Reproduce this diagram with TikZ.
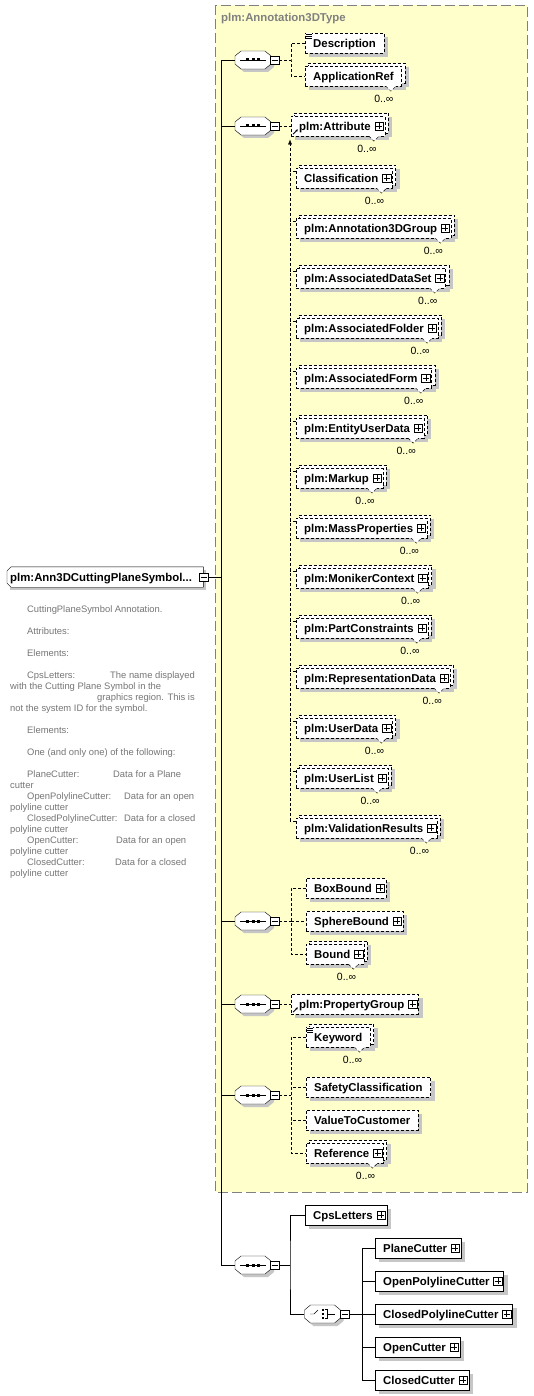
\documentclass[tikz,border=0pt]{standalone}
\usepackage{fontspec}
\setmainfont{Liberation Sans}
\usetikzlibrary{arrows.meta}
\definecolor{yel}{RGB}{255,255,204}
\definecolor{shcol}{RGB}{198,198,198}
\definecolor{frame}{RGB}{128,128,128}
\definecolor{anncol}{RGB}{118,118,118}
\pgfdeclarelayer{ylay}\pgfdeclarelayer{shlay}\pgfdeclarelayer{bklay}
\pgfsetlayers{ylay,shlay,bklay,main}
\newcommand\labfont{\fontsize{11.4}{13}\selectfont\bfseries}
\newcommand\occfont{\fontsize{10.5}{12}\selectfont}
\newcommand\annfont{\fontsize{9.4}{11}\selectfont}
\tikzset{
 dsh/.style={dash pattern=on 3pt off 2pt},
 elem/.style={rectangle, draw, fill=white, anchor=west, minimum height=20pt, inner xsep=0pt, inner ysep=0pt, text height=8.4pt, text depth=0pt, font=\labfont},
 plusb/.style={draw, solid, fill=white, minimum size=8.5pt, inner sep=0pt, path picture={\draw[solid] ([xshift=-3pt]path picture bounding box.center) -- ([xshift=3pt]path picture bounding box.center) ([yshift=-3pt]path picture bounding box.center) -- ([yshift=3pt]path picture bounding box.center);}},
 minusb/.style={draw, solid, fill=white, minimum size=8.5pt, inner sep=0pt, path picture={\draw[solid] ([xshift=-3pt]path picture bounding box.center) -- ([xshift=3pt]path picture bounding box.center);}},
 oct/.style={draw=none, minimum width=36pt, minimum height=18pt, inner sep=0pt},
 occ/.style={font=\occfont, inner sep=0pt},
 ann/.style={font=\annfont, text=anncol, anchor=base west, inner sep=0pt},
}
\newcommand\elP[5]{\node[elem,#5] (#1) at (#2,#3) {\hspace*{8pt}#4\hspace*{14pt}};\node[plusb] (#1p) at ([xshift=-6pt]#1.east) {};}
\newcommand\elN[5]{\node[elem,#5] (#1) at (#2,#3) {\hspace*{8pt}#4\hspace*{8pt}};}
\newcommand\shad[1]{\begin{pgfonlayer}{shlay}\fill[shcol] ([shift={(4,4)}]#1.south west) rectangle ([shift={(4,4)}]#1.north east);\end{pgfonlayer}}
\newcommand\multi[2]{%
 \begin{pgfonlayer}{shlay}\fill[shcol] ([shift={(7,1)}]#1.south west) rectangle ([shift={(7,1)}]#1.north east);\end{pgfonlayer}
 \begin{pgfonlayer}{bklay}\filldraw[fill=white,#2] ([shift={(3,-3)}]#1.south west) rectangle ([shift={(3,-3)}]#1.north east);\end{pgfonlayer}
 \filldraw[fill=white,#2] ([xshift=-16pt]#1.south east) -- ([shift={(-11,5)}]#1.south east) -- ([xshift=-6pt]#1.south east);
 \node[occ] (#1o) at ([shift={(-18,13)}]#1.south east) {0..∞};}
\newcommand\refic[1]{\draw[solid,line width=0.8pt,-{Latex[length=2.5pt,width=2.5pt]}] ([shift={(2,-2)}]#1.south west) -- ([shift={(7,-7)}]#1.south west);}
\newcommand\annic[1]{\fill[white] ([shift={(0.5,0.5)}]#1.north west) rectangle ([shift={(7,6.5)}]#1.north west);
 \draw[solid,line width=0.7pt] ([shift={(1,1.5)}]#1.north west) -- ++(5.5,0) ([shift={(1,3.5)}]#1.north west) -- ++(5.5,0) ([shift={(1,5.5)}]#1.north west) -- ++(5.5,0);}
\newcommand\octshape[1]{%
 \fill[shcol] ([shift={(3,3)}]#1.center) ++(-18,-4) -- ++(6,-5) -- ++(24,0) -- ++(6,5) -- ++(0,8) -- ++(-6,5) -- ++(-24,0) -- ++(-6,-5) -- cycle;
 \filldraw[fill=white] (#1.center) ++(-18,-4) -- ++(6,-5) -- ++(24,0) -- ++(6,5) -- ++(0,8) -- ++(-6,5) -- ++(-24,0) -- ++(-6,-5) -- cycle;}
\newcommand\seqn[3]{% name, x, y
 \node[oct] (#1) at (#2,#3) {};
 \octshape{#1}
 \draw (#1.center) ++(-13,0) -- ++(26,0);
 \fill (#1.center) ++(-7,-1.5) rectangle ++(3,3);
 \fill (#1.center) ++(-1.5,-1.5) rectangle ++(3,3);
 \fill (#1.center) ++(4,-1.5) rectangle ++(3,3);
 \node[minusb] (#1m) at ([xshift=21.5pt]#1.center) {};}
\begin{document}
\begin{tikzpicture}[x=1pt,y=-1pt,line width=1pt]
\useasboundingbox (0,0) rectangle (533,1396);
\begin{pgfonlayer}{ylay}
\fill[white] (0,0) rectangle (533,1396);
\filldraw[fill=yel, draw=frame, dash pattern=on 10pt off 4pt] (215,5) rectangle (527,1192);
\end{pgfonlayer}
\node[anchor=west, inner sep=0pt, font=\labfont, text=frame] (title) at (221,19) {plm:Annotation3DType};

% root
\node[elem, draw=none, fill=none] (root) at (7,577) {\hspace*{3pt}\makebox[193pt][l]{plm:Ann3DCuttingPlaneSymbol...}};
\begin{pgfonlayer}{shlay}\fill[shcol] ([shift={(3,3)}]root.south west) rectangle ([shift={(3,3)}]root.north east);\end{pgfonlayer}
\begin{pgfonlayer}{bklay}
\filldraw[fill=white] ([shift={(0,4)}]root.north west) -- ([shift={(4,0)}]root.north west) -- (root.north east) -- (root.south east) -- ([shift={(4,0)}]root.south west) -- ([shift={(0,-4)}]root.south west) -- cycle;
\end{pgfonlayer}
\node[minusb] (rootm) at (203.5,577) {};

% annotation
\node[ann] (a1) at (27,612.5) {CuttingPlaneSymbol Annotation.};
\node[ann] (a2) at (27,634.5) {Attributes:};
\node[ann] (a3) at (27,656.5) {Elements:};
\node[ann] (a4) at (27,678.5) {CpsLetters:};
\node[ann] (a4b) at (110,678.5) {The name displayed};
\node[ann] (a5) at (10,689.5) {with the Cutting Plane Symbol in the};
\node[ann] (a6) at (97,700.5) {graphics region. This is};
\node[ann] (a7) at (10,711.5) {not the system ID for the symbol.};
\node[ann] (a8) at (27,733.5) {Elements:};
\node[ann] (a9) at (27,755.5) {One (and only one) of the following:};
\node[ann] (a10) at (27,777.5) {PlaneCutter:};
\node[ann] (a10b) at (113,777.5) {Data for a Plane};
\node[ann] (a11) at (10,788.5) {cutter};
\node[ann] (a12) at (27,799.5) {OpenPolylineCutter:};
\node[ann] (a12b) at (124,799.5) {Data for an open};
\node[ann] (a13) at (10,810.5) {polyline cutter};
\node[ann] (a14) at (27,821.5) {ClosedPolylineCutter:};
\node[ann] (a14b) at (124,821.5) {Data for a closed};
\node[ann] (a15) at (10,832.5) {polyline cutter};
\node[ann] (a16) at (27,843.5) {OpenCutter:};
\node[ann] (a16b) at (116,843.5) {Data for an open};
\node[ann] (a17) at (10,854.5) {polyline cutter};
\node[ann] (a18) at (27,865.5) {ClosedCutter:};
\node[ann] (a18b) at (115,865.5) {Data for a closed};
\node[ann] (a19) at (10,876.5) {polyline cutter};

% sequences
\seqn{s1}{253}{60}
\seqn{s2}{253}{126}
\seqn{s3}{253}{921}
\seqn{s4}{253}{1004}
\seqn{s5}{253}{1095}
\seqn{s6}{253}{1265}

% group 1
\elN{desc}{305}{43}{Description}{dsh} \shad{desc} \annic{desc}
\elN{appref}{305}{76}{ApplicationRef}{dsh} \shad{appref} \multi{appref}{dsh}

% group 2
\elP{attr}{291}{126}{plm:Attribute}{dsh} \shad{attr} \multi{attr}{dsh} \refic{attr}
\foreach \n/\yy/\t in {cls/178/Classification, a3g/228/plm:Annotation3DGroup, ads/278/plm:AssociatedDataSet, afo/328/plm:AssociatedFolder, afm/378/plm:AssociatedForm, eud/428/plm:EntityUserData, mku/478/plm:Markup, mpr/528/plm:MassProperties, mon/578/plm:MonikerContext, pcs/628/plm:PartConstraints, rep/678/plm:RepresentationData, usd/728/plm:UserData, usl/778/plm:UserList, val/828/plm:ValidationResults}{
 \elP{\n}{296}{\yy}{\t}{dsh} \shad{\n} \multi{\n}{dsh}
 \draw[dsh] ([yshift=7pt]\n.west) -- ++(-6,0);
}
\coordinate (subtop) at (290,139.5);
\coordinate (subbot) at (290,821);
\draw[dsh,-{Latex[length=5pt,width=4pt]}] (subbot) -- (subtop);

% group 3
\elP{bb}{306}{888}{BoxBound}{dsh} \shad{bb}
\elP{sb}{306}{921}{SphereBound}{dsh} \shad{sb}
\elP{bd}{306}{954}{Bound}{dsh} \shad{bd} \multi{bd}{dsh}

% group 4
\elP{pg}{291}{1004}{plm:PropertyGroup}{dsh} \shad{pg} \refic{pg}

% group 5
\elN{kw}{306}{1037}{Keyword}{dsh} \shad{kw} \multi{kw}{dsh} \annic{kw}
\elN{sc}{306}{1087}{SafetyClassification}{dsh} \shad{sc}
\elN{vc}{306}{1120}{ValueToCustomer}{dsh} \shad{vc}
\elP{rf}{306}{1153}{Reference}{dsh} \shad{rf} \multi{rf}{dsh}

% group 6
\elP{cps}{305}{1215}{CpsLetters}{solid} \shad{cps}
\node[oct] (ch) at (322.5,1314) {};
\octshape{ch}
\draw (ch.center) ++(-12.5,0) -- ++(4,0) -- ++(4,-4);
\fill (ch.center) ++(-0.5,-5) rectangle ++(2.2,2.2);
\fill (ch.center) ++(-0.5,-1.1) rectangle ++(2.2,2.2);
\fill (ch.center) ++(-0.5,2.8) rectangle ++(2.2,2.2);
\draw (ch.center) ++(2.5,-4.5) -- ++(2,0) -- ++(0,9) -- ++(-2,0);
\draw (ch.center) ++(4.5,0) -- ++(7.5,0);
\node[minusb] (chm) at (344.5,1314) {};
\elP{pc}{375}{1248}{PlaneCutter}{solid} \shad{pc}
\elP{opc}{375}{1281}{OpenPolylineCutter}{solid} \shad{opc}
\elP{cpc}{375}{1314}{ClosedPolylineCutter}{solid} \shad{cpc}
\elP{oc}{375}{1347}{OpenCutter}{solid} \shad{oc}
\elP{cc}{375}{1380}{ClosedCutter}{solid} \shad{cc}

% trunk
\coordinate (tr) at (221,577);
\coordinate (t1) at (221,60);
\coordinate (t2) at (221,126);
\coordinate (t3) at (221,921);
\coordinate (t4) at (221,1004);
\coordinate (t5) at (221,1095);
\coordinate (t6) at (221,1265);
\draw (rootm.east) -- (tr);
\draw (t1) -- (t6);
\draw (t1) -- (s1.west);
\draw (t2) -- (s2.west);
\draw (t3) -- (s3.west);
\draw (t4) -- (s4.west);
\draw (t5) -- (s5.west);
\draw (t6) -- (s6.west);

% branches
\coordinate (b1) at (291,60);
\draw[dsh] (s1m.east) -- (b1);
\draw[dsh] (desc.west) -| (b1) |- (appref.west);
\draw[dsh] (s2m.east) -- (attr.west);
\coordinate (b3) at (291,921);
\draw[dsh] (s3m.east) -- (b3);
\draw[dsh] (bb.west) -| (b3) |- (bd.west);
\draw[dsh] (b3) -- (sb.west);
\draw[dsh] (s4m.east) -- (pg.west);
\coordinate (b5) at (291,1095);
\draw[dsh] (s5m.east) -- (b5);
\draw[dsh] (kw.west) -| (b5) |- (rf.west);
\draw[dsh] (sc.west) -| (b5);
\draw[dsh] (vc.west) -| (b5);
\coordinate (b6) at (290,1265);
\draw (s6m.east) -- (b6);
\draw (cps.west) -| (b6) |- (ch.west);
\coordinate (b7) at (362,1314);
\draw (chm.east) -- (b7);
\draw (pc.west) -| (b7) |- (cc.west);
\draw (opc.west) -| (b7);
\draw (cpc.west) -- (b7);
\draw (oc.west) -| (b7);
\end{tikzpicture}
\end{document}
